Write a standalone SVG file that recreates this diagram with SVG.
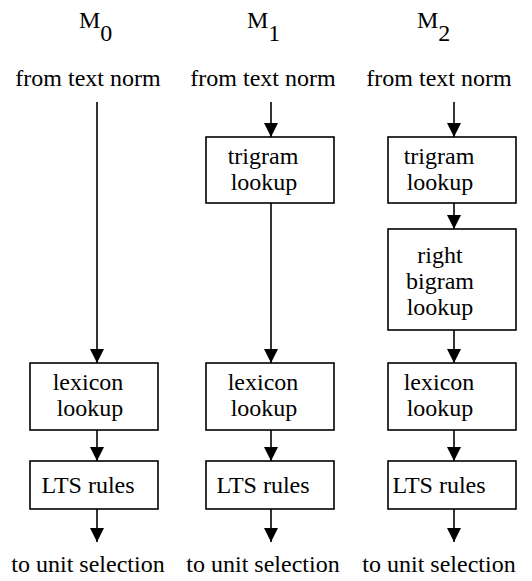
<svg xmlns="http://www.w3.org/2000/svg" width="532" height="581" viewBox="0 0 532 581" font-family="'Liberation Serif', 'Times New Roman', 'DejaVu Serif', serif" font-size="24">
<style>
text{font-family:'Liberation Serif','Times New Roman','DejaVu Serif',serif;font-size:24px;fill:#000}
.c{text-anchor:middle}
.box{fill:#fff;stroke:#000;stroke-width:1.6}
.ln{stroke:#000;stroke-width:1.6;fill:none}
</style>
<defs>
<marker id="a" markerUnits="userSpaceOnUse" markerWidth="14" markerHeight="14" refX="14" refY="7" orient="auto" viewBox="0 0 14 14">
<path d="M0,0 L14,7 L0,14 Z" fill="#000"/>
</marker>
</defs>
<g id="labels">
<text x="79" y="28">M<tspan dy="13">0</tspan></text>
<text x="247" y="28">M<tspan dy="13">1</tspan></text>
<text x="417" y="28">M<tspan dy="13">2</tspan></text>
<text class="c" x="88" y="86" text-anchor="middle">from text norm</text>
<text class="c" x="263" y="86" text-anchor="middle">from text norm</text>
<text class="c" x="439" y="86" text-anchor="middle">from text norm</text>
<text class="c" x="88" y="572" text-anchor="middle">to unit selection</text>
<text class="c" x="263" y="572" text-anchor="middle">to unit selection</text>
<text class="c" x="439" y="572" text-anchor="middle">to unit selection</text>
</g>
<g id="connectors">
<line class="ln" x1="97" y1="102" x2="97" y2="363" marker-end="url(#a)"/>
<line class="ln" x1="97" y1="430" x2="97" y2="461" marker-end="url(#a)"/>
<line class="ln" x1="97" y1="509" x2="97" y2="542" marker-end="url(#a)"/>
<line class="ln" x1="271" y1="102" x2="271" y2="137" marker-end="url(#a)"/>
<line class="ln" x1="271" y1="203" x2="271" y2="363" marker-end="url(#a)"/>
<line class="ln" x1="271" y1="430" x2="271" y2="461" marker-end="url(#a)"/>
<line class="ln" x1="271" y1="509" x2="271" y2="542" marker-end="url(#a)"/>
<line class="ln" x1="454" y1="102" x2="454" y2="137" marker-end="url(#a)"/>
<line class="ln" x1="454" y1="203" x2="454" y2="229" marker-end="url(#a)"/>
<line class="ln" x1="454" y1="330" x2="454" y2="363" marker-end="url(#a)"/>
<line class="ln" x1="454" y1="430" x2="454" y2="461" marker-end="url(#a)"/>
<line class="ln" x1="454" y1="509" x2="454" y2="542" marker-end="url(#a)"/>
</g>
<g id="m0-lexicon"><rect class="box" x="30" y="363" width="128" height="67"/><text class="c" text-anchor="middle" x="88" y="390">lexicon</text><text class="c" text-anchor="middle" x="90" y="416">lookup</text></g>
<g id="m0-lts"><rect class="box" x="30" y="461" width="128" height="48"/><text class="c" text-anchor="middle" x="88" y="493">LTS rules</text></g>
<g id="m1-trigram"><rect class="box" x="206" y="137" width="128" height="66"/><text class="c" text-anchor="middle" x="263" y="164">trigram</text><text class="c" text-anchor="middle" x="264" y="190">lookup</text></g>
<g id="m1-lexicon"><rect class="box" x="206" y="363" width="128" height="67"/><text class="c" text-anchor="middle" x="263" y="390">lexicon</text><text class="c" text-anchor="middle" x="264" y="416">lookup</text></g>
<g id="m1-lts"><rect class="box" x="206" y="461" width="128" height="48"/><text class="c" text-anchor="middle" x="263" y="493">LTS rules</text></g>
<g id="m2-trigram"><rect class="box" x="388" y="137" width="128" height="66"/><text class="c" text-anchor="middle" x="439" y="164">trigram</text><text class="c" text-anchor="middle" x="440" y="190">lookup</text></g>
<g id="m2-bigram"><rect class="box" x="388" y="229" width="128" height="101"/><text class="c" text-anchor="middle" x="440" y="263">right</text><text class="c" text-anchor="middle" x="440" y="289">bigram</text><text class="c" text-anchor="middle" x="440" y="315">lookup</text></g>
<g id="m2-lexicon"><rect class="box" x="388" y="363" width="128" height="67"/><text class="c" text-anchor="middle" x="439" y="390">lexicon</text><text class="c" text-anchor="middle" x="440" y="416">lookup</text></g>
<g id="m2-lts"><rect class="box" x="388" y="461" width="128" height="48"/><text class="c" text-anchor="middle" x="439" y="493">LTS rules</text></g>
</svg>
